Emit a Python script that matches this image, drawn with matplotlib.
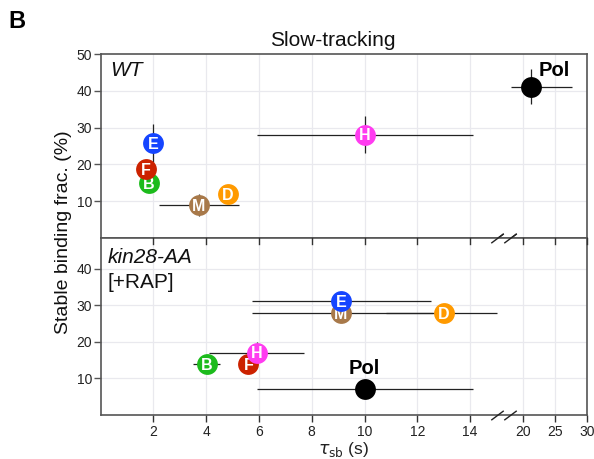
import numpy as np
import matplotlib
matplotlib.use("Agg")
import matplotlib.pyplot as plt
from matplotlib.scale import FuncScale

plt.rcParams['font.family'] = ['Liberation Sans', 'DejaVu Sans']
plt.rcParams['mathtext.fontset'] = 'dejavusans'

# ---------------- data ----------------
labels = ["Pol", "B", "M", "D", "F", "H", "E"]
colors = ["#000000", "#1cbb1c", "#a8794a", "#ff9a00", "#cc2200", "#ff3cf0", "#1545ff"]

# WT
wt_x = [21.3, 1.84, 3.73, 4.82, 1.72, 10.0, 2.0]
wt_y = [41.0, 14.8, 8.85, 11.85, 18.7, 28.0, 25.7]
wt_xlo = [3.6, 0.0, 1.5, 0.0, 0.0, 4.08, 0.1]
wt_xhi = [6.4, 0.0, 1.5, 0.0, 0.0, 4.12, 0.1]
wt_ylo = [4.7, 0.0, 3.0, 0.0, 0.0, 5.0, 5.0]
wt_yhi = [5.0, 0.0, 3.0, 0.0, 0.0, 5.0, 5.3]

# kin28-AA [+RAP]
kin_x = [10.0, 4.02, 9.11, 13.01, 5.6, 5.92, 9.11]
kin_y = [7.0, 13.9, 27.9, 27.9, 13.9, 17.0, 31.1]
kin_xlo = [4.08, 0.5, 3.38, 2.2, 0.0, 1.8, 3.38]
kin_xhi = [4.12, 0.5, 3.5, 2.0, 0.0, 1.8, 3.41]
kin_ylo = [0.0, 0.0, 0.0, 0.0, 0.0, 0.0, 0.0]
kin_yhi = [0.0, 0.0, 0.0, 0.0, 0.0, 3.0, 0.5]

xticks = [2, 4, 6, 8, 10, 12, 14, 20, 25, 30]
yticks = [10, 20, 30, 40, 50]

# ------------- broken x scale -------------
def fwd(x):
    x = np.asarray(x, dtype=float)
    return np.where(x <= 15, x,
           np.where(x <= 20, 15 + (x - 15) * 0.2, 16 + (x - 20) * 0.2424))

def inv(u):
    u = np.asarray(u, dtype=float)
    return np.where(u <= 15, u,
           np.where(u <= 16, 15 + (u - 15) / 0.2, 20 + (u - 16) / 0.2424))

fig = plt.figure(figsize=(5.94, 4.59), dpi=100)
L, W = 100.5 / 594, 486.5 / 594
ax1 = fig.add_axes([L, 1 - 237.8 / 459, W, 183.8 / 459])
ax2 = fig.add_axes([L, 1 - 415 / 459, W, 177 / 459])

grid_c = "#e9e9ee"
for ax, xs, ys, xlo, xhi, ylo, yhi, ytop in [
        (ax1, wt_x, wt_y, wt_xlo, wt_xhi, wt_ylo, wt_yhi, 50),
        (ax2, kin_x, kin_y, kin_xlo, kin_xhi, kin_ylo, kin_yhi, 48.4)]:
    ax.set_xscale(FuncScale(ax, (fwd, inv)))
    ax.set_xlim(0, 30)
    ax.set_ylim(0, ytop)
    ax.set_xticks(xticks)
    ax.set_yticks(yticks if ytop >= 50 else yticks[:-1])
    for t in xticks:
        ax.axvline(t, color=grid_c, lw=0.9, zorder=0)
    for t in [10, 20, 30, 40]:
        ax.axhline(t, color=grid_c, lw=0.9, zorder=0)
    for i in range(len(labels)):
        ax.errorbar([xs[i]], [ys[i]], xerr=[[xlo[i]], [xhi[i]]],
                    yerr=[[ylo[i]], [yhi[i]]], fmt='none', ecolor='#222222',
                    elinewidth=0.9, capsize=0, zorder=2)
    for i in range(len(labels)):
        z = 3 + 2 * i
        ax.plot([xs[i]], [ys[i]], 'o', ms=15, color=colors[i], mec='none', zorder=z)
        if labels[i] != "Pol":
            ax.text(xs[i], ys[i] - 0.3, labels[i], color='white', fontsize=11.5,
                    fontweight='bold', ha='center', va='center', zorder=z + 1)
    for s in ax.spines.values():
        s.set_color('#555555')
        s.set_linewidth(1.2)
    ax.tick_params(axis='y', direction='out', length=5, width=1, color='#555555',
                   labelsize=10, labelcolor='#222222', pad=1)

ax1.tick_params(axis='x', bottom=False, labelbottom=False)
ax2.tick_params(axis='x', direction='out', length=5, width=1, color='#333333',
                labelsize=10, labelcolor='#222222', pad=2, top=False)
# top ticks of lower panel pointing inwards
for t in xticks:
    ax2.plot([t, t], [1, 0.965], transform=ax2.get_xaxis_transform(),
             color='#333333', lw=1, clip_on=False, zorder=20)

# break marks
slash = [(-1, -0.75), (1, 0.75)]
for ax, yy in [(ax1, 0), (ax2, 1), (ax2, 0)]:
    for bx in [15.0, 17.6]:
        ax.plot([bx], [yy], transform=ax.get_xaxis_transform(), marker=slash,
                ms=9, mec='#222222', mew=1, linestyle='none', clip_on=False, zorder=21)

# labels
ax1.text(0.02, 0.96, "WT", transform=ax1.transAxes, fontsize=15,
         style='italic', ha='left', va='top', color='#111111')
ax2.text(0.015, 0.945, "kin28-AA", transform=ax2.transAxes, fontsize=15,
         style='italic', ha='left', va='top', color='#111111')
ax2.text(0.015, 0.80, "[+RAP]", transform=ax2.transAxes, fontsize=15,
         ha='left', va='top', color='#111111')
ax1.text(24.9, 45.6, "Pol", fontsize=14.5, fontweight='bold', ha='center', va='center')
ax2.text(10.0, 12.8, "Pol", fontsize=14.5, fontweight='bold', ha='center', va='center')

ax2.set_xlabel(r"$\tau_{\mathrm{sb}}$ (s)", fontsize=12.5, labelpad=1, color='#222222')
fig.text(63 / 594, 1 - 232 / 459, "Stable binding frac. (%)", rotation=90,
         fontsize=14, ha='center', va='center', color='#111111')
fig.text(333 / 594, 1 - 40 / 459, "Slow-tracking", fontsize=15, ha='center',
         va='center', color='#111111')
fig.text(8 / 594, 1 - 22 / 459, "B", fontsize=17, fontweight='bold',
         ha='left', va='center')

fig.savefig("out.png", dpi=100)
